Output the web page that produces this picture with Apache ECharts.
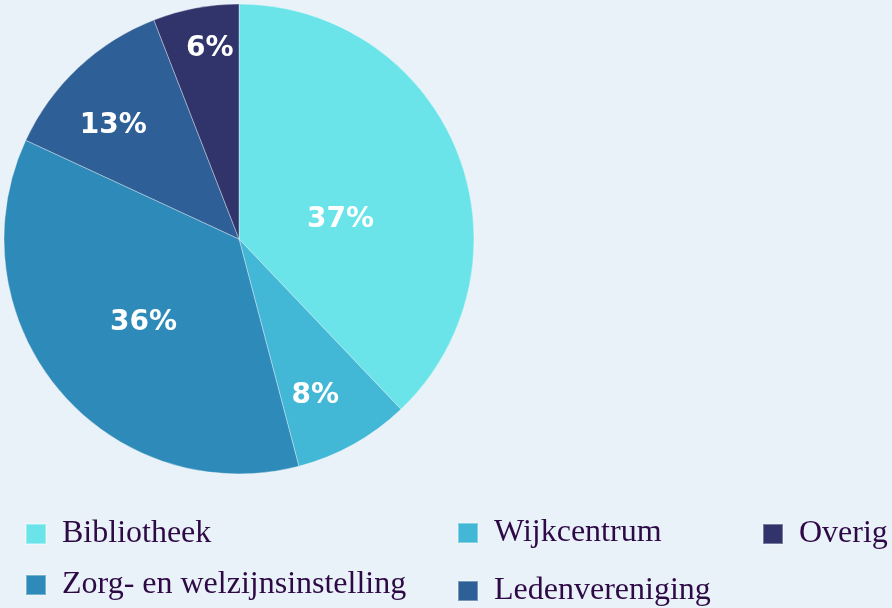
<!DOCTYPE html>
<html>
<head>
<meta charset="utf-8">
<script src="https://cdn.jsdelivr.net/npm/echarts@6/dist/echarts.min.js"></script>
<style>
  html, body { margin: 0; padding: 0; background: #eaf2f9; }
  #chart { width: 892px; height: 608px; }
</style>
</head>
<body>
<div id="chart"></div>
<script>
// categories + shares + the printed labels
var categories = ['Bibliotheek', 'Wijkcentrum', 'Zorg- en welzijnsinstelling', 'Ledenvereniging', 'Overig'];
var values = [37.9, 8.0, 36.0, 12.2, 5.9];
var shownLabels = ['37%', '8%', '36%', '13%', '6%'];
var colors = ['#6ae4e8', '#43b7d6', '#2d8ab9', '#2e5f97', '#30346a'];
// where the label sits inside its slice: fraction along the arc, fraction of radius
var labelAlong = [0.58, 0.61, 0.49, 0.39, 0.59];
var labelRadius = [0.44, 0.74, 0.54, 0.72, 0.82];

var cx = 239, cy = 239, R = 235;

var chart = echarts.init(document.getElementById('chart'));

var total = values.reduce(function (a, b) { return a + b; }, 0);
var labelAngles = [];
var acc = 0;
values.forEach(function (v, i) {
  labelAngles.push((acc + v * labelAlong[i]) / total * Math.PI * 2);
  acc += v;
});

var legendText = {
  fontFamily: 'Liberation Serif',
  fontSize: 32,
  lineHeight: 32,
  color: '#2d0a45',
  padding: [0, 0, 0, 11]
};

function makeLegend(names, left, top, gap) {
  return {
    data: names,
    orient: 'vertical',
    left: left,
    top: top,
    padding: 0,
    itemWidth: 20,
    itemHeight: 20,
    itemGap: gap,
    icon: 'rect',
    selectedMode: false,
    textStyle: legendText
  };
}

chart.setOption({
  backgroundColor: '#eaf2f9',
  color: colors,
  legend: [
    makeLegend(['Bibliotheek', 'Zorg- en welzijnsinstelling'], 25, 518, 19),
    makeLegend(['Wijkcentrum', 'Ledenvereniging'], 457, 517, 26),
    makeLegend(['Overig'], 762, 518, 19)
  ],
  series: [{
    type: 'pie',
    center: [cx, cy],
    radius: [0, R],
    startAngle: 90,
    clockwise: true,
    silent: true,
    itemStyle: {
      borderColor: 'rgba(255,255,255,0.35)',
      borderWidth: 1
    },
    label: {
      show: true,
      position: 'inside',
      formatter: function (p) { return shownLabels[p.dataIndex]; },
      fontFamily: 'DejaVu Sans',
      fontWeight: 'bold',
      fontSize: 28,
      color: '#ffffff'
    },
    labelLine: { show: false },
    labelLayout: function (params) {
      var i = params.dataIndex;
      var a = labelAngles[i];
      return {
        x: cx + Math.sin(a) * R * labelRadius[i],
        y: cy - Math.cos(a) * R * labelRadius[i],
        align: 'center',
        verticalAlign: 'middle'
      };
    },
    data: categories.map(function (c, i) {
      return { name: c, value: values[i] };
    })
  }]
});
</script>
</body>
</html>
